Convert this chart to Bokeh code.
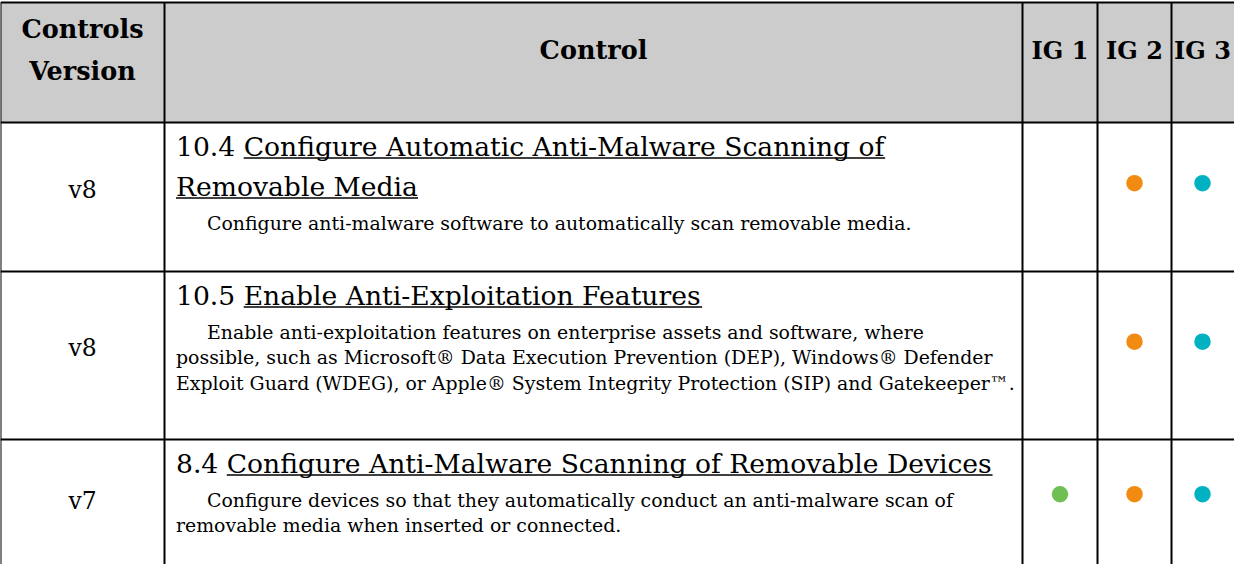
import glob
import struct

from bokeh.plotting import figure
from bokeh.models import Range1d
from bokeh.core.properties import value
from bokeh.embed import file_html
from bokeh.resources import INLINE

# ---------------- data ----------------
header_labels = ["Controls", "Version", "Control"]
ig_labels = ["IG 1", "IG 2", "IG 3"]
versions = ["v8", "v8", "v7"]
control_ids = ["10.4", "10.5", "8.4"]
control_titles = [
    ["Configure Automatic Anti-Malware Scanning of", "Removable Media"],
    ["Enable Anti-Exploitation Features"],
    ["Configure Anti-Malware Scanning of Removable Devices"],
]
control_descriptions = [
    ["Configure anti-malware software to automatically scan removable media."],
    ["Enable anti-exploitation features on enterprise assets and software, where",
     "possible, such as Microsoft\u00ae Data Execution Prevention (DEP), Windows\u00ae Defender",
     "Exploit Guard (WDEG), or Apple\u00ae System Integrity Protection (SIP) and Gatekeeper\u2122."],
    ["Configure devices so that they automatically conduct an anti-malware scan of",
     "removable media when inserted or connected."],
]
ig1 = [False, False, True]
ig2 = [True, True, True]
ig3 = [True, True, True]
ig_colors = ["#6FBF53", "#F28B12", "#00B2C1"]

# ---------------- layout ----------------
W, H = 1234, 564
X0, X1 = 8, 8 + W          # 1 data unit = 1 page pixel
Y0, Y1 = 8, 8 + H
col_edges = [8, 172, 1030, 1105, 1179, 1241]
row_edges = [10, 130, 279, 447, 584]
SERIF = "DejaVu Serif"
TITLE_SIZE = 26.6
BODY_SIZE = 18.9
HEAD_SIZE = 25.5
IG_SIZE = 24.0
VER_SIZE = 23.5
TEXT_LEFT = 183.5
INDENT = 31
BASE_SHIFT = 0.345          # renderer places the alphabetic baseline this many em below y


def ypos(baseline, size):
    return baseline - BASE_SHIFT * size


# --- text width measurement from the installed font file (for underlines) ---
def _parse_font(path):
    data = open(path, "rb").read()
    n = struct.unpack(">H", data[4:6])[0]
    tables = {}
    for i in range(n):
        tag, _, off, ln = struct.unpack(">4sIII", data[12 + 16 * i:28 + 16 * i])
        tables[tag.decode("latin1")] = off
    head = tables["head"]
    upem = struct.unpack(">H", data[head + 18:head + 20])[0]
    hhea = tables["hhea"]
    nhm = struct.unpack(">H", data[hhea + 34:hhea + 36])[0]
    hm = tables["hmtx"]
    adv = [struct.unpack(">H", data[hm + 4 * i:hm + 4 * i + 2])[0] for i in range(nhm)]
    cm = tables["cmap"]
    nsub = struct.unpack(">H", data[cm + 2:cm + 4])[0]
    o = None
    for i in range(nsub):
        pid, eid, off = struct.unpack(">HHI", data[cm + 4 + 8 * i:cm + 12 + 8 * i])
        fmt = struct.unpack(">H", data[cm + off:cm + off + 2])[0]
        if fmt == 4 and pid in (0, 3):
            o = cm + off
            break
    segx2 = struct.unpack(">H", data[o + 6:o + 8])[0]
    seg = segx2 // 2
    ends = struct.unpack(">%dH" % seg, data[o + 14:o + 14 + segx2])
    so = o + 16 + segx2
    starts = struct.unpack(">%dH" % seg, data[so:so + segx2])
    do = so + segx2
    deltas = struct.unpack(">%dh" % seg, data[do:do + segx2])
    ro = do + segx2
    ros = struct.unpack(">%dH" % seg, data[ro:ro + segx2])

    def glyph(c):
        for k in range(seg):
            if ends[k] >= c:
                if starts[k] > c:
                    return 0
                if ros[k] == 0:
                    return (c + deltas[k]) & 0xFFFF
                addr = ro + 2 * k + ros[k] + 2 * (c - starts[k])
                g = struct.unpack(">H", data[addr:addr + 2])[0]
                return (g + deltas[k]) & 0xFFFF if g else 0
        return 0

    def width(s, size):
        tot = 0
        for ch in s:
            g = glyph(ord(ch))
            tot += adv[min(g, nhm - 1)]
        return tot * size / upem

    return width


def _find_measure():
    for pat in ["/usr/share/fonts/**/DejaVuSerif.ttf", "/usr/**/DejaVuSerif.ttf"]:
        for path in glob.glob(pat, recursive=True):
            try:
                return _parse_font(path)
            except Exception:
                pass
    return lambda s, size: 0.555 * size * len(s)


text_w = _find_measure()

# ---------------- figure ----------------
p = figure(width=W, height=H, x_range=Range1d(X0, X1), y_range=Range1d(Y1, Y0),
           output_backend="svg", toolbar_location=None, min_border=0)
p.axis.visible = False
p.grid.visible = False
p.outline_line_color = None
p.background_fill_color = "white"
p.border_fill_color = "white"

# header background
p.quad(left=[col_edges[0]], right=[col_edges[-1] + 20], top=[row_edges[0]], bottom=[row_edges[1]],
       fill_color="#CCCCCC", line_color=None)

# grid lines (table continues past the bottom and right edges)
hy = row_edges[:-1]
p.segment(x0=[col_edges[0]] * len(hy), y0=hy, x1=[col_edges[-1] + 20] * len(hy), y1=hy,
          line_color="black", line_width=2)
vx = col_edges[:-1]
p.segment(x0=vx, y0=[row_edges[0]] * len(vx), x1=vx, y1=[row_edges[-1] + 30] * len(vx),
          line_color="black", line_width=2)

# header labels
cc = [(col_edges[i] + col_edges[i + 1]) / 2 for i in range(len(col_edges) - 1)]
p.text(x=[cc[0], cc[0], cc[1]], y=[ypos(b, HEAD_SIZE) for b in [45, 87, 66]], text=header_labels,
       text_font=value(SERIF), text_font_style="bold",
       text_font_size="%gpx" % HEAD_SIZE, text_align="center", text_baseline="alphabetic",
       text_color="black")
p.text(x=cc[2:5], y=[ypos(66, IG_SIZE)] * len(ig_labels), text=ig_labels,
       text_font=value(SERIF), text_font_style="bold",
       text_font_size="%gpx" % IG_SIZE, text_align="center", text_baseline="alphabetic",
       text_color="black")

# rows
row_centers = [(row_edges[i] + row_edges[i + 1]) / 2 for i in range(1, len(row_edges) - 1)]
p.text(x=[cc[0]] * len(versions), y=[ypos(c + 1, VER_SIZE) for c in row_centers], text=versions,
       text_font=value(SERIF), text_font_size="%gpx" % VER_SIZE, text_align="center",
       text_baseline="alphabetic", text_color="black")

tx, ty, tt = [], [], []
bx, by, bt = [], [], []
ux0, ux1, uy = [], [], []
for r in range(len(versions)):
    top = row_edges[r + 1]
    yb = top + 33
    last = yb
    for k, line in enumerate(control_titles[r]):
        if k == 0:
            s = control_ids[r] + " " + line
            start = TEXT_LEFT + text_w(control_ids[r] + " ", TITLE_SIZE)
        else:
            s = line
            start = TEXT_LEFT
        tx.append(TEXT_LEFT); ty.append(ypos(yb, TITLE_SIZE)); tt.append(s)
        ux0.append(start); ux1.append(TEXT_LEFT + text_w(s, TITLE_SIZE)); uy.append(yb + 2.5)
        last = yb
        yb += 40
    yb = last + 34
    for k, line in enumerate(control_descriptions[r]):
        bx.append(TEXT_LEFT + (INDENT if k == 0 else 0)); by.append(ypos(yb, BODY_SIZE)); bt.append(line)
        yb += 25.5

p.text(x=tx, y=ty, text=tt, text_font=value(SERIF), text_font_size="%gpx" % TITLE_SIZE,
       text_align="left", text_baseline="alphabetic", text_color="black")
p.segment(x0=ux0, y0=uy, x1=ux1, y1=uy, line_color="black", line_width=1.6)
p.text(x=bx, y=by, text=bt, text_font=value(SERIF), text_font_size="%gpx" % BODY_SIZE,
       text_align="left", text_baseline="alphabetic", text_color="black")

# implementation-group dots
dx, dy, dc = [], [], []
for j, flags in enumerate([ig1, ig2, ig3]):
    for r, f in enumerate(flags):
        if f:
            dx.append(cc[2 + j]); dy.append(row_centers[r] - 13.8); dc.append(ig_colors[j])
p.scatter(x=dx, y=dy, size=16.5, fill_color=dc, line_color=None, marker="circle")

open("out.html", "w").write(file_html(p, INLINE))
